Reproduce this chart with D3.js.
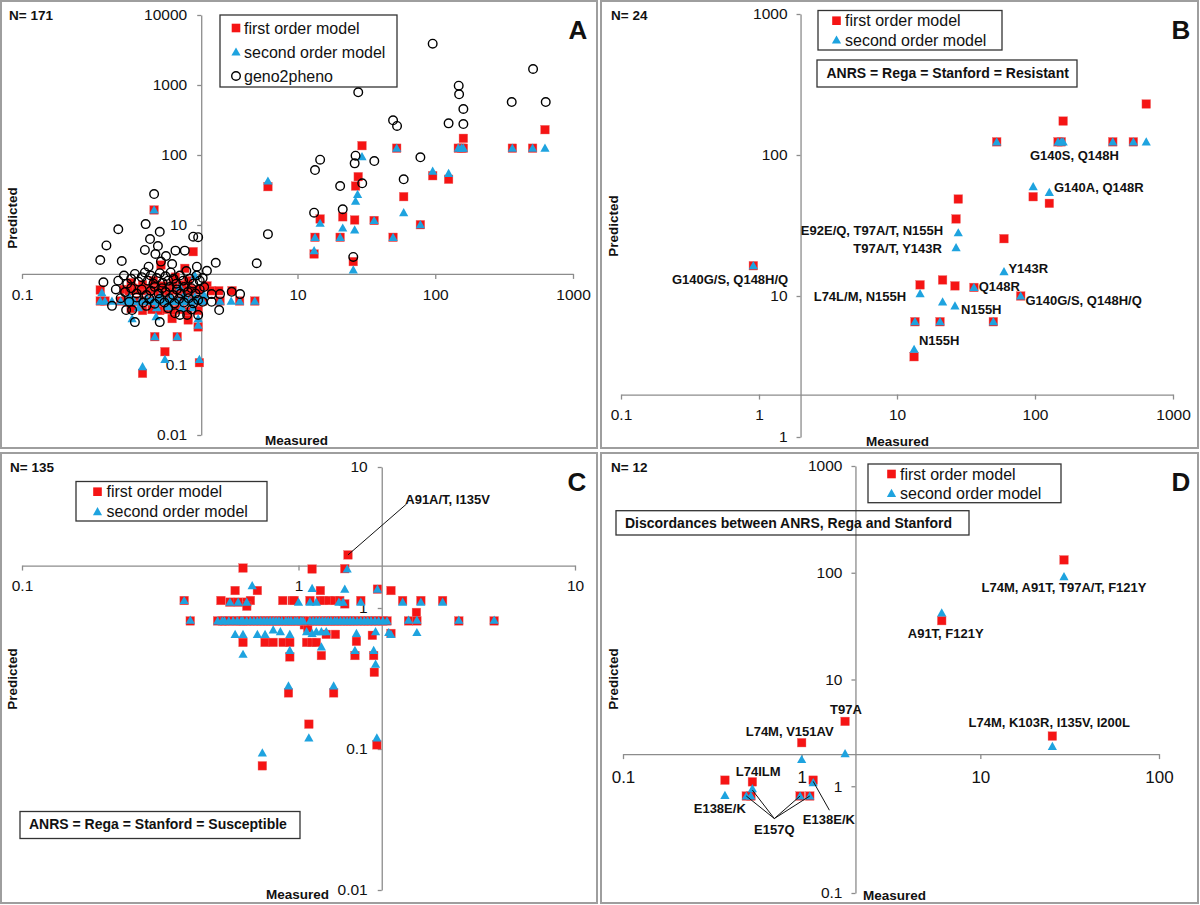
<!DOCTYPE html>
<html><head><meta charset="utf-8">
<script src="https://cdn.jsdelivr.net/npm/d3@7"></script>
<style>body{margin:0;background:#fff} svg text{font-family:"Liberation Sans",Arial,Helvetica,sans-serif}</style>
</head><body><svg id="c" width="1200" height="905"></svg>
<script>
// ---------- DATA ----------
// Panel A (all samples): [measured, predicted]
const aFirst = [
 [29.4,136],[52.5,125],[147,125],[155,125],[160,173],[160,125],[363,125],[509,125],[626,230],[95.8,50.6],[125,45],[59,25.4],[27.6,49],[26.4,36],[21.3,13.1],[26,11.8],[36,11.6],[20.4,6.67],[13.4,6.67],[14.6,12.2],[13.2,3.85],[49.4,6.67],[78,10.1],[25.4,3.0],[0.91,16.4],[6.1,35.3],
 [0.37,1.18],[0.55,1.2],[0.6,1.15],[0.64,1.25],[0.68,1.18],[0.72,1.2],[0.76,1.15],[0.8,1.22],[0.84,1.18],[0.88,1.15],[0.92,1.2],[0.96,1.18],[1.0,1.15],[1.05,1.2],[1.1,1.18],[1.16,1.15],[1.22,1.2],[1.3,1.18],[1.38,1.15],[1.46,1.2],[1.55,1.18],[1.65,1.15],[1.78,1.2],[1.92,1.18],[2.2,1.35],[2.38,1.15],[2.68,1.15],[3.35,1.15],
 [0.62,1.5],[0.75,1.4],[0.9,1.6],[1.05,1.35],[1.25,1.5],[1.45,1.4],[1.6,1.6],[1.75,4.16],[1.52,2.4],[1.02,2.68],[1.3,1.8],
 [0.37,0.82],[0.4,0.82],[0.52,0.82],[0.58,0.82],[0.65,0.82],[0.72,0.82],[0.78,0.82],[0.85,0.82],[0.92,0.82],[1.0,0.82],[1.08,0.82],[1.17,0.82],[1.27,0.82],[1.38,0.82],[1.5,0.82],[1.65,0.82],[1.82,0.82],[2.05,0.82],[2.74,0.82],[3.8,0.82],[4.9,0.82],
 [0.62,0.64],[0.75,0.6],[0.88,0.62],[1.0,0.6],[1.12,0.62],[1.25,0.6],[1.4,0.62],[1.6,0.58],[1.9,0.6],
 [1.23,0.46],[1.61,0.44],[1.9,0.35],[0.92,0.254],[1.34,0.254],[1.09,0.155],[0.75,0.076],[1.94,0.108]
];
const aSecond = [
 [29.4,94.6],[52.5,125],[147,125],[155,125],[160,125],[363,125],[509,125],[626,125],[95.8,59],[125,54.8],[59,15],[27.3,27.4],[26.4,22],[21.3,9.06],[26,8.5],[36,11.6],[20.4,6.67],[13.4,6.67],[14.6,10.6],[13.2,4.3],[49.4,6.67],[78,10.1],[25.4,2.28],[0.91,16.4],[6.1,42.5],
 [0.37,0.82],[0.4,0.82],[0.45,0.82],[0.52,0.82],[0.58,0.82],[0.62,0.82],[0.65,0.82],[0.72,0.82],[0.78,0.82],[0.85,0.82],[0.88,0.82],[0.92,0.82],[1.0,0.82],[1.08,0.82],[1.12,0.82],[1.17,0.82],[1.27,0.82],[1.32,0.82],[1.38,0.82],[1.5,0.82],[1.57,0.82],[1.65,0.82],[1.82,0.82],[1.95,0.82],[2.05,0.82],[2.74,0.82],[3.3,0.82],[3.8,0.82],[4.9,0.82],
 [0.38,1.08],[0.6,0.95],[0.8,0.9],[1.0,0.95],[1.2,0.92],[1.5,1.0],[1.8,0.95],[2.1,1.0],
 [0.7,0.66],[0.95,0.66],[1.15,0.68],[1.45,0.66],[1.75,0.66],[1.8,1.9],[1.4,1.3],
 [0.63,0.46],[0.94,0.49],[1.9,0.46],[0.92,0.254],[1.34,0.254],[1.09,0.12],[0.75,0.095],[1.94,0.12],[1.9,0.37]
];
const aGeno = [
 [95.8,3890],[27.6,787],[513,1693],[148,977],[149,736],[359,571],[634,571],[160,454],[49.4,313],[52.8,260],[125,283],[160,277],[78,92.7],[26.4,97.8],[26,76],[36.1,82],[14.6,85.7],[13.4,61],[20.4,36],[29.5,39.4],[59,45],[13.2,15],[21.3,16.8],[25.4,3.5],[0.91,27.7],[6.1,7.4],[5.06,2.84],
 [0.5,8.7],[0.79,10.3],[1.0,8.0],[0.41,5.1],[0.85,6.3],[0.97,5.0],[0.78,4.4],[0.93,3.85],[1.11,3.6],[1.3,4.3],[1.52,4.3],[1.75,6.8],[1.9,6.7],[0.37,3.16],[0.53,3.06],[1.02,3.0],[1.23,2.77],[2.55,2.89],[0.83,2.54],[1.86,2.54],[2.2,2.22],[0.39,1.52],
 [0.5,1.6],[0.55,1.9],[0.58,1.45],[0.62,1.7],[0.66,2.0],[0.7,1.55],[0.74,1.8],[0.78,2.1],[0.82,1.6],[0.86,1.9],[0.9,1.45],[0.95,1.75],[1.0,2.05],[1.05,1.5],[1.1,1.85],[1.15,1.6],[1.2,2.1],[1.26,1.7],[1.32,1.45],[1.4,1.9],[1.48,1.6],[1.56,2.2],[1.65,1.7],[1.75,1.45],[1.85,1.9],[1.95,1.6],[2.05,1.75],
 [0.48,1.2],[0.56,1.1],[0.62,1.25],[0.68,1.05],[0.74,1.2],[0.8,1.0],[0.86,1.15],[0.92,1.3],[0.98,1.05],[1.04,1.25],[1.1,1.1],[1.18,1.3],[1.25,1.0],[1.33,1.2],[1.42,1.05],[1.5,1.3],[1.6,1.1],[1.7,1.25],[1.82,1.05],[1.95,1.2],[2.1,1.3],
 [0.52,0.9],[0.6,0.8],[0.68,0.92],[0.76,0.78],[0.84,0.88],[0.92,0.75],[1.0,0.88],[1.08,0.78],[1.18,0.9],[1.28,0.76],[1.38,0.88],[1.5,0.78],[1.62,0.9],[1.75,0.76],[1.9,0.85],[2.05,0.8],
 [2.38,1.03],[2.74,1.03],[3.33,1.11],[3.83,1.03],[2.7,0.61],[2.38,0.8],
 [0.57,0.61],[0.63,0.61],[0.66,0.41],[1.0,0.41],[1.4,0.52],[1.58,0.52],[1.9,0.52],[1.29,0.55],[0.8,0.7],[1.15,0.65],[1.7,0.62],[0.45,0.7]
];

// Panel B (ANRS = Rega = Stanford = Resistant)
const bMeasured = [640,160,147,155,52.8,366,516,97,127,27.8,26.8,59.6,14.7,21.4,26.3,36.1,78.8,13.5,20.5,49.9,13.3,0.91];
const bFirst    = [230,174,124,124,124,124,124,50.6,45.4,48.7,35.2,25.5,12.0,13.0,11.8,11.5,10,6.57,6.57,6.57,3.71,16.4];
const bSecond   = [124,124,124,124,124,124,124,59.6,54.4,28.1,22,14.9,10.4,9.1,8.5,11.5,10,6.57,6.57,6.57,4.19,16.4];
const bLabelText = ["G140G/S, Q148H/Q","E92E/Q, T97A/T, N155H","T97A/T, Y143R","L74L/M, N155H","G140S, Q148H","G140A, Q148R","Y143R","Q148R","G140G/S, Q148H/Q","N155H","N155H"];
const bLabelAt   = [[0.617,13.1],[6.59,29.1],[10.1,21.9],[5.39,10],[193,100],[290,58.6],[89.4,15.7],[55.1,11.6],[225,9.26],[40.8,8.05],[20.2,4.82]];

// Panel C (ANRS = Rega = Stanford = Susceptible)
const cRowMeasured = [0.51,0.53,0.54,0.56,0.58,0.6,0.62,0.63,0.65,0.67,0.69,0.71,0.73,0.75,0.77,0.79,0.81,0.83,0.85,0.87,0.9,0.92,0.94,0.97,0.99,1.02,1.04,1.1,1.13,1.16,1.19,1.22,1.25,1.28,1.31,1.35,1.38,1.42,1.46,1.5,1.54,1.58,1.63,1.68,1.73,1.78,1.83,1.89,1.95,2.02,2.09];
const cRowPredicted = 0.81;
const cFirst = [
 [1.51,2.38],[0.63,1.92],[1.12,1.89],[1.47,1.9],
 [0.59,1.33],[0.71,1.33],[1.2,1.33],[2.16,1.33],[1.93,1.36],
 [0.386,1.13],[0.524,1.13],[0.565,1.1],[0.605,1.1],[0.65,1.1],[0.67,1.13],[0.877,1.13],[0.95,1.13],[0.964,1.13],[1.1,1.13],[1.2,1.13],[1.23,1.13],[1.29,1.13],[1.35,1.13],[1.41,1.13],[1.47,1.07],[1.68,1.13],[2.38,1.13],[2.77,1.13],[3.32,1.13],
 [0.65,1.03],[2.67,0.93],
 [0.406,0.81],[2.5,0.81],[2.68,0.81],[3.8,0.81],[5.1,0.81],[1.05,0.76],[1.08,0.72],
 [0.63,0.57],[0.757,0.57],[0.81,0.57],[0.88,0.57],[0.93,0.57],[1.07,0.57],[1.12,0.57],[1.16,0.57],[1.62,0.58],[1.85,0.64],[2.16,0.66],[1.26,0.65],[1.36,0.65],
 [0.93,0.45],[1.21,0.46],[1.6,0.46],[1.87,0.46],[1.88,0.35],[0.92,0.25],[1.34,0.25],[1.09,0.15],[1.92,0.107],[0.74,0.076]
];
const cSecond = [
 [1.5,1.89],[0.68,1.44],[1.12,1.38],[1.47,1.36],[1.93,1.36],
 [0.386,1.13],[0.565,1.1],[0.605,1.1],[0.65,1.1],[1.0,1.1],[1.1,1.1],[1.16,1.1],[1.4,1.1],[1.45,1.1],[1.68,1.1],[2.38,1.1],[2.77,1.1],[3.32,1.1],
 [0.406,0.82],[2.5,0.82],[2.68,0.82],[3.8,0.82],[5.1,0.82],
 [0.59,0.65],[0.63,0.65],[0.71,0.65],[0.757,0.65],[0.81,0.7],[0.86,0.68],[0.93,0.65],[1.07,0.68],[1.12,0.66],[1.16,0.68],[1.21,0.68],[1.26,0.68],[1.62,0.66],[1.9,0.68],[2.12,0.67],[2.68,0.67],[2.16,0.65],
 [0.63,0.47],[0.93,0.5],[1.21,0.53],[1.6,0.5],[1.87,0.5],[1.9,0.4],[0.92,0.28],[1.34,0.28],[1.09,0.12],[1.92,0.12],[0.74,0.094]
];
const cLabelText = "A91A/T, I135V";
const cLabelAt = [3.46,5.93];
const cLeader = [[1.51,2.38],[2.46,5.47]];

// Panel D (Discordances between ANRS, Rega and Stanford)
const dMeasured = [0.372,0.53,0.49,0.52,0.98,1.11,1.16,1.0,1.75,29.4,6.08,25.3];
const dFirst    = [1.14,1.1,0.81,0.81,0.81,0.81,1.14,2.56,4.05,132,35.6,2.95];
const dSecond   = [0.82,0.95,0.81,0.81,0.81,0.81,1.08,1.78,2.02,91.8,42,2.36];
const dLabelText = ["T97A","L74M, V151AV","L74ILM","E138E/K","E157Q","E138E/K","A91T, F121Y","L74M, A91T, T97A/T, F121Y","L74M, K103R, I135V, I200L"];
const dLabelAt   = [[1.77,5.23],[0.857,3.27],[0.571,1.39],[0.348,0.626],[0.703,0.393],[1.42,0.491],[6.4,26.9],[29.4,72.1],[24.3,3.92]];
const dLeaders = [[[0.703,0.498],[0.49,0.81]],[[0.703,0.498],[0.53,0.92]],[[0.703,0.498],[0.98,0.81]],[[0.703,0.498],[1.11,0.81]],[[1.43,0.596],[1.16,1.11]]];

const legendNames = ["first order model","second order model","geno2pheno"];
const tickA = {x:[0.1,1,10,100,1000], y:[0.01,0.1,1,10,100,1000,10000]};
const tickB = {x:[0.1,1,10,100,1000], y:[1,10,100,1000]};
const tickC = {x:[0.1,1,10], y:[0.01,0.1,1,10]};
const tickD = {x:[0.1,1,10,100], y:[0.1,1,10,100,1000]};

// ---------- DRAWING ----------
const svg = d3.select("#c");
const RED = "#f51414", BLUE = "#1ea3df", AXC = "#8c8c8c", FONT = "'Liberation Sans', Arial, sans-serif";
const triPath = "M0,-4.6L4.6,3.6L-4.6,3.6Z";

function frame(x0,y0,x1,y1){
  svg.append("rect").attr("x",x0).attr("y",y0).attr("width",x1-x0).attr("height",y1-y0)
    .attr("fill","none").attr("stroke","#9e9e9e").attr("stroke-width",2);
}
function axes(x,y,t,o){
  const g = svg.append("g");
  const xa = d3.axisBottom(x).tickValues(t.x).tickFormat(d => (o.hide||[]).includes(d) ? "" : String(d))
    .tickSizeInner(5).tickSizeOuter(0).tickPadding(o.xpad);
  const ya = d3.axisLeft(y).tickValues(t.y).tickFormat(d => (o.hide||[]).includes(d) ? "" : String(d))
    .tickSizeInner(4).tickSizeOuter(0).tickPadding(o.ypad);
  const style = (s,fs)=>{ s.attr("font-family",FONT);
    s.selectAll("path,line").attr("stroke",AXC).attr("stroke-width",1.3);
    s.selectAll("text").attr("font-size",fs).attr("fill","#111"); };
  g.append("g").attr("transform",`translate(0,${y(2)})`).call(xa).call(s=>style(s,o.xfs||15.5));
  g.append("g").attr("transform",`translate(${x(2)},0)`).call(ya).call(s=>style(s,15.5));
}
function txt(x,y,s,o={}){
  const t = svg.append("text").attr("x",x).attr("y",y).attr("dy",o.dy||"0.35em").text(s)
    .attr("font-size",o.fs||13).attr("font-weight",o.fw||"bold").attr("fill","#111")
    .attr("text-anchor",o.anchor||"start");
  if(o.rot) t.attr("transform",`rotate(-90,${x},${y})`);
  return t;
}
function squares(pts,x,y){
  svg.append("g").selectAll("rect").data(pts).join("rect")
    .attr("x",d=>x(d[0])-4.3).attr("y",d=>y(d[1])-4.3).attr("width",8.6).attr("height",8.6)
    .attr("fill",RED).attr("stroke","#e66").attr("stroke-width",0.4);
}
function triangles(pts,x,y){
  svg.append("g").selectAll("path").data(pts).join("path")
    .attr("d",triPath).attr("transform",d=>`translate(${x(d[0])},${y(d[1])})`).attr("fill",BLUE);
}
function circles(pts,x,y){
  svg.append("g").selectAll("circle").data(pts).join("circle")
    .attr("cx",d=>x(d[0])).attr("cy",d=>y(d[1])).attr("r",4.3)
    .attr("fill","none").attr("stroke","#000").attr("stroke-width",1.4);
}
function box(x0,y0,x1,y1){
  svg.append("rect").attr("x",x0).attr("y",y0).attr("width",x1-x0).attr("height",y1-y0)
    .attr("fill","none").attr("stroke","#333").attr("stroke-width",1.3);
}
function legend(x0,y0,x1,y1,mx,tx,rows,n){
  box(x0,y0,x1,y1);
  svg.append("rect").attr("x",mx-4.3).attr("y",rows[0]-4.3).attr("width",8.6).attr("height",8.6).attr("fill",RED);
  svg.append("path").attr("d",triPath).attr("transform",`translate(${mx},${rows[1]})`).attr("fill",BLUE);
  if(n===3) svg.append("circle").attr("cx",mx).attr("cy",rows[2]).attr("r",4.3).attr("fill","none").attr("stroke","#000").attr("stroke-width",1.4);
  for(let i=0;i<n;i++) txt(tx,rows[i],legendNames[i],{fs:16,fw:"normal"});
}
function lines(segs,x,y){
  svg.append("g").selectAll("line").data(segs).join("line")
    .attr("x1",d=>x(d[0][0])).attr("y1",d=>y(d[0][1])).attr("x2",d=>x(d[1][0])).attr("y2",d=>y(d[1][1]))
    .attr("stroke","#111").attr("stroke-width",1);
}

// Panel A
{
  frame(1,1,597,448);
  const x = d3.scaleLog().domain([0.1,1000]).range([22,573]);
  const y = d3.scaleLog().domain([0.01,10000]).range([435,15]);
  axes(x,y,tickA,{xpad:10.5,ypad:10,hide:[1]});
  legend(220,15,397,87,236,244,[28,52,76],3);
  txt(9,15,"N= 171",{fs:13.5});
  txt(578,30,"A",{fs:26,anchor:"middle",dy:0});
  txt(12,218,"Predicted",{fs:13.5,anchor:"middle",rot:true});
  txt(265,440,"Measured",{fs:13.5});
  squares(aFirst,x,y); triangles(aSecond,x,y); circles(aGeno,x,y);
}
// Panel B
{
  frame(601,1,1198,448);
  const x = d3.scaleLog().domain([0.1,1000]).range([621,1173]);
  const y = d3.scaleLog().domain([1,1000]).range([437,14]);
  axes(x,y,tickB,{xpad:9,ypad:9});
  legend(818,10.5,1002,50,836.5,845,[20.7,40],2);
  box(817,60,1077,87);
  txt(826.5,73.5,"ANRS = Rega = Stanford = Resistant",{fs:14});
  txt(611,15,"N= 24",{fs:13.5});
  txt(1181,30,"B",{fs:26,anchor:"middle",dy:0});
  txt(613,226,"Predicted",{fs:13.5,anchor:"middle",rot:true});
  txt(866,441,"Measured",{fs:13.5});
  squares(d3.zip(bMeasured,bFirst),x,y); triangles(d3.zip(bMeasured,bSecond),x,y);
  bLabelText.forEach((s,i)=>txt(x(bLabelAt[i][0]),y(bLabelAt[i][1]),s,{fs:13,anchor:"middle"}));
}
// Panel C
{
  frame(1,453,597,903);
  const x = d3.scaleLog().domain([0.1,10]).range([22,575]);
  const y = d3.scaleLog().domain([0.01,10]).range([890,467]);
  axes(x,y,tickC,{xpad:9,ypad:10});
  legend(76,481.5,267,521,97.5,106.5,[491.7,511.7],2);
  box(20,811.5,300,838.5);
  txt(29,824.5,"ANRS = Rega = Stanford = Susceptible",{fs:14});
  txt(10,467,"N= 135",{fs:13.5});
  txt(577,482,"C",{fs:26,anchor:"middle",dy:0});
  txt(12,679,"Predicted",{fs:13.5,anchor:"middle",rot:true});
  txt(266,894,"Measured",{fs:13.5});
  const rowPts = cRowMeasured.map(m=>[m,cRowPredicted]);
  squares(cFirst.concat(rowPts),x,y); triangles(cSecond.concat(rowPts),x,y);
  lines([cLeader],x,y);
  txt(x(cLabelAt[0]),y(cLabelAt[1]),cLabelText,{fs:13,anchor:"middle"});
}
// Panel D
{
  frame(601,453,1198,903);
  const x = d3.scaleLog().domain([0.1,100]).range([623,1159]);
  const y = d3.scaleLog().domain([0.1,1000]).range([893,466]);
  axes(x,y,tickD,{xpad:12,ypad:9,xfs:17});
  legend(868,464,1061,502.7,891.5,900,[474,493.3],2);
  box(616,510.7,969,535);
  txt(625,523,"Discordances between ANRS, Rega and Stanford",{fs:14});
  txt(611,467,"N= 12",{fs:13.5});
  txt(1181,482,"D",{fs:26,anchor:"middle",dy:0});
  txt(613,679,"Predicted",{fs:13.5,anchor:"middle",rot:true});
  txt(863,895,"Measured",{fs:13.5});
  squares(d3.zip(dMeasured,dFirst),x,y); triangles(d3.zip(dMeasured,dSecond),x,y);
  lines(dLeaders,x,y);
  dLabelText.forEach((s,i)=>txt(x(dLabelAt[i][0]),y(dLabelAt[i][1]),s,{fs:13,anchor:"middle"}));
}
</script></body></html>
